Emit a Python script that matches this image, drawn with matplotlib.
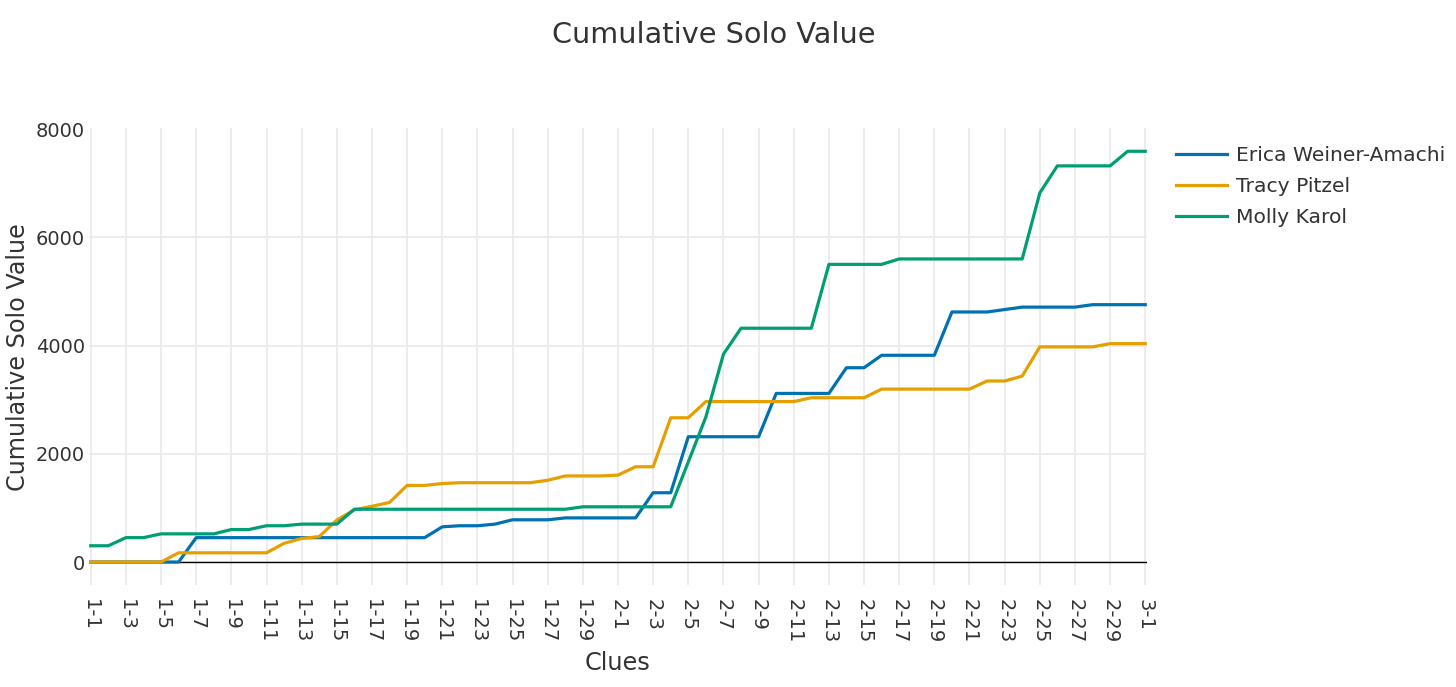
import matplotlib
matplotlib.use("Agg")
import matplotlib.pyplot as plt

# clue labels: round 1 (30 clues), round 2 (30 clues), final
clues = [f"1-{n}" for n in range(1, 31)] + [f"2-{n}" for n in range(1, 31)] + ["3-1"]

erica = [0, 0, 0, 0, 0, 0, 450, 450, 450, 450,
         450, 450, 450, 450, 450, 450, 450, 450, 450, 450,
         650, 670, 670, 700, 780, 780, 780, 815, 815, 815,
         815, 815, 1280, 1280, 2315, 2315, 2315, 2315, 2315, 3115,
         3115, 3115, 3115, 3590, 3590, 3820, 3820, 3820, 3820, 4620,
         4620, 4620, 4665, 4710, 4710, 4710, 4710, 4755, 4755, 4755,
         4755]
tracy = [0, 0, 0, 0, 0, 170, 170, 170, 170, 170,
         170, 345, 435, 470, 775, 965, 1030, 1100, 1415, 1415,
         1450, 1465, 1465, 1465, 1465, 1465, 1510, 1590, 1590, 1590,
         1605, 1760, 1760, 2665, 2665, 2965, 2965, 2965, 2965, 2965,
         2965, 3035, 3035, 3035, 3035, 3195, 3195, 3195, 3195, 3195,
         3195, 3345, 3345, 3435, 3975, 3975, 3975, 3975, 4035, 4035,
         4035]
molly = [300, 300, 450, 450, 520, 520, 520, 520, 600, 600,
         670, 670, 700, 700, 700, 975, 975, 975, 975, 975,
         975, 975, 975, 975, 975, 975, 975, 975, 1020, 1020,
         1020, 1020, 1020, 1020, 1850, 2680, 3840, 4320, 4320, 4320,
         4320, 4320, 5500, 5500, 5500, 5500, 5600, 5600, 5600, 5600,
         5600, 5600, 5600, 5600, 6820, 7320, 7320, 7320, 7320, 7590,
         7590]

series = [("Erica Weiner-Amachi", erica, "#0072B2"),
          ("Tracy Pitzel", tracy, "#E69F00"),
          ("Molly Karol", molly, "#009E73")]

plt.rcParams["font.family"] = ["DejaVu Sans"]
text_color = "#333333"

W, H = 1456, 687
fig = plt.figure(figsize=(W / 100, H / 100), dpi=100)
ax = fig.add_axes([89 / W, 1 - 585 / H, (1147 - 89) / W, (585 - 128) / H])

x = list(range(len(clues)))
for name, vals, color in series:
    ax.plot(x, vals, color=color, lw=2.3, label=name, zorder=3)

ax.axhline(0, color="black", lw=1.0, zorder=2)
ax.set_xlim(-0.1, len(clues) - 0.9)
ax.set_ylim(-425, 8020)
ax.set_yticks([0, 2000, 4000, 6000, 8000])
ax.set_xticks(x[::2])
ax.set_xticklabels(clues[::2], rotation=-90, va="top", ha="center")
ax.grid(True, color="#ebebeb", lw=1.3, zorder=0)
ax.set_axisbelow(True)
# no gridline along the top edge (8000)
ax.yaxis.get_gridlines()[-1].set_visible(False)
for s in ax.spines.values():
    s.set_visible(False)
ax.tick_params(length=0, labelsize=14, colors=text_color, pad=10)
ax.tick_params(axis="y", pad=3)

fig.text(714 / W, 1 - 35 / H, "Cumulative Solo Value", ha="center", va="center",
         fontsize=20.7, color=text_color)
fig.text(18 / W, 1 - 357 / H, "Cumulative Solo Value", ha="center", va="center",
         rotation=90, fontsize=17.2, color=text_color)
fig.text(617 / W, 1 - 663 / H, "Clues", ha="center", va="center",
         fontsize=17.3, color=text_color)

leg = ax.legend(loc="upper left", bbox_to_anchor=(1176 / W, 1 - 146 / H),
                bbox_transform=fig.transFigure, frameon=False, fontsize=14.6,
                handlelength=2.5, handletextpad=0.45, labelspacing=0.6,
                borderpad=0, borderaxespad=0)
for t in leg.get_texts():
    t.set_color(text_color)
for h in leg.legend_handles:
    h.set_linewidth(2.3)

fig.savefig("out.png", dpi=100)
